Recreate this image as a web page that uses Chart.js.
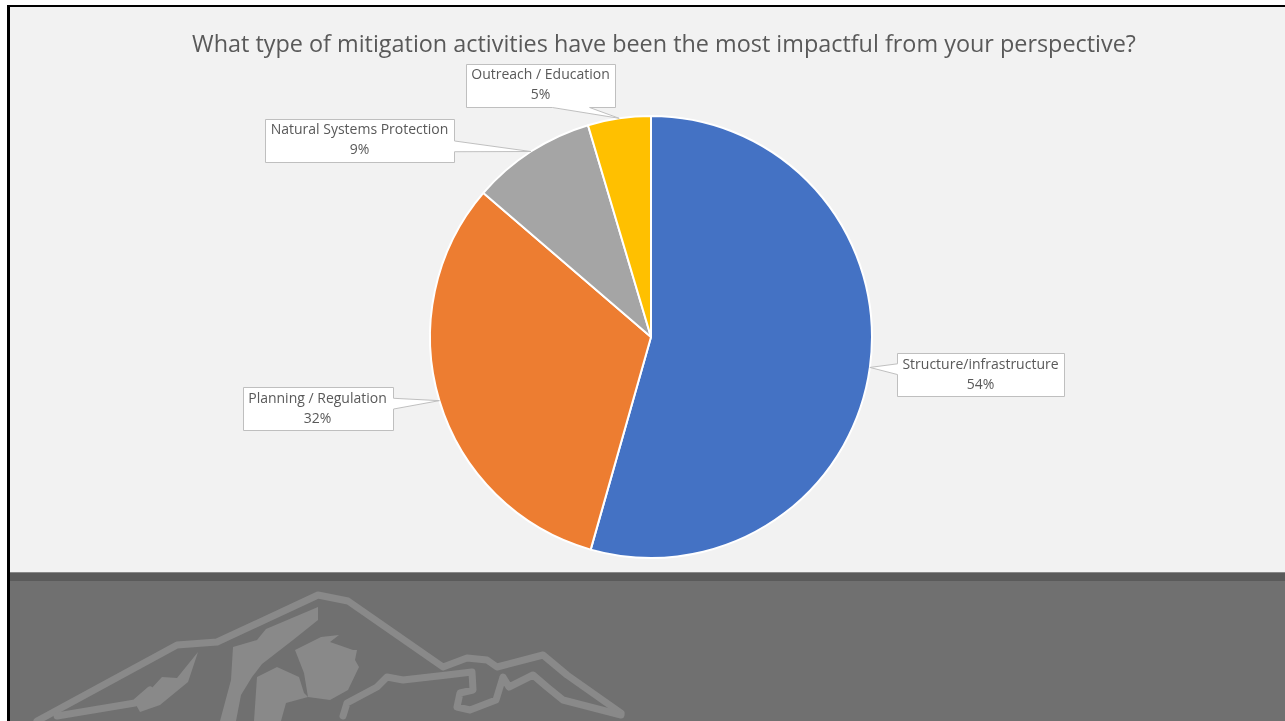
<!DOCTYPE html>
<html>
<head>
<meta charset="utf-8">
<script src="https://cdn.jsdelivr.net/npm/chart.js@4"></script>
<style>
  html, body { margin: 0; padding: 0; background: #ffffff; width: 1285px; height: 721px; overflow: hidden; }
  #frame { position: absolute; left: 7px; top: 5px; width: 1278px; height: 716px; border-left: 3px solid #000; border-top: 2px solid #000; background: #707070; }
  #panel { position: absolute; left: 0; top: 0; width: 1275px; height: 565px; background: #f2f2f2; }
  #band { position: absolute; left: 0; top: 565px; width: 1275px; height: 8px; background: #5a5a5a; border-top: 1px solid #888; }
  #logo { position: absolute; left: -10px; top: -7px; }
  #myChart { position: absolute; left: 0; top: 0; }
</style>
</head>
<body>
<div id="frame">
  <svg id="logo" width="1285" height="721" viewBox="0 0 1285 721">
    <g fill="none" stroke="#898989" stroke-width="7" stroke-linejoin="round" stroke-linecap="round">
      <polyline points="37,721 177,645 217,642 318,595 348,601 443,667 467,658 487,660 497,667 543,655 567,675 621,713" />
      <polyline points="343,716 347,703 377,687 387,677 403,680 447,675 472,672 473,690 460,693 457,707 470,710 496,700 503,677 509,687 533,675 547,687 563,700 621,715" />
      <polyline points="57,716 135,703 150,690" />
    </g>
    <g fill="#898989">
      <polygon points="135,703 150,690 162,677 177,678 198,652 188,682 160,705 140,712" />
      <polygon points="220,721 231,680 233,647 257,640 266,629 318,607 318,620 293,640 262,664 252,677 241,695 236,721" />
      <polygon points="254,721 257,677 277,667 299,677 304,693 308,697 286,703 281,721" />
      <polygon points="295,650 321,637 339,635 330,642 353,650 357,650 355,660 359,667 348,690 330,700 308,697 304,673" />
    </g>
  </svg>
  <div id="panel"></div>
  <div id="band"></div>
  <canvas id="myChart" width="1275" height="565"></canvas>
</div>
<script>
// survey answers, share of respondents in percent
const categories = ["Structure/infrastructure", "Planning / Regulation", "Natural Systems Protection", "Outreach / Education"];
const shares = [54.4, 31.9, 9.1, 4.6];
const sliceColors = ["#4472c4", "#ed7d31", "#a5a5a5", "#ffc000"];
const chartTitle = "What type of mitigation activities have been the most impactful from your perspective?";

//title drawn at its own spot (the slide centres it a bit right of the pie)
const slideTitle = {
  id: "slideTitle",
  afterDraw(chart, args, opts) {
    const ctx = chart.ctx;
    ctx.save();
    ctx.font = opts.font;
    ctx.fillStyle = opts.color;
    ctx.textAlign = "center";
    ctx.textBaseline = "middle";
    ctx.fillText(opts.text, opts.x, opts.y);
    ctx.restore();
  },
};

//Excel style wedge callouts
const callouts = {
  id: "callouts",
  afterDatasetsDraw(chart, args, opts) {
    const ctx = chart.ctx;
    const meta = chart.getDatasetMeta(0);
    const values = chart.data.datasets[0].data;
    ctx.save();
    ctx.font = opts.font;
    meta.data.forEach((arc, i) => {
      const p = arc.getProps(["x", "y", "startAngle", "endAngle", "outerRadius"], true);
      const mid = (p.startAngle + p.endAngle) / 2;
      const tip = { x: p.x + Math.cos(mid) * p.outerRadius, y: p.y + Math.sin(mid) * p.outerRadius };
      const lines = [chart.data.labels[i], Math.round(values[i]) + "%"];
      const w = Math.round(Math.max(...lines.map((t) => ctx.measureText(t).width)) + 11);
      const h = 43;
      const cx = p.x + opts.offsets[i][0];
      const cy = p.y + opts.offsets[i][1];
      const l = Math.round(cx - w / 2) + 0.5, r = l + w, t = Math.round(cy - h / 2) + 0.5, b = t + h;
      const dx = tip.x - cx, dy = tip.y - cy;
      const sx = w / 2 / Math.abs(dx), sy = h / 2 / Math.abs(dy);
      const pts = [[l, t]];
      let side, e, hw;
      if (sx < sy) {
        side = dx > 0 ? "r" : "l";
        hw = h / 8;
        e = Math.min(Math.max(cy + dy * sx, t + hw), b - hw);
      } else {
        side = dy > 0 ? "b" : "t";
        hw = w / 8;
        e = Math.min(Math.max(cx + dx * sy * 0.6, l + hw), r - hw);
      }
      if (side === "t") pts.push([e - hw, t], [tip.x, tip.y], [e + hw, t]);
      pts.push([r, t]);
      if (side === "r") pts.push([r, e - hw], [tip.x, tip.y], [r, e + hw]);
      pts.push([r, b]);
      if (side === "b") pts.push([e + hw, b], [tip.x, tip.y], [e - hw, b]);
      pts.push([l, b]);
      if (side === "l") pts.push([l, e + hw], [tip.x, tip.y], [l, e - hw]);
      ctx.beginPath();
      pts.forEach((pt, k) => (k ? ctx.lineTo(pt[0], pt[1]) : ctx.moveTo(pt[0], pt[1])));
      ctx.closePath();
      ctx.fillStyle = "#ffffff";
      ctx.fill();
      ctx.strokeStyle = "#bfbfbf";
      ctx.lineWidth = 1;
      ctx.stroke();
      ctx.fillStyle = "#595959";
      ctx.textAlign = "center";
      ctx.textBaseline = "middle";
      ctx.fillText(lines[0], cx, cy - 9.5);
      ctx.fillText(lines[1], cx, cy + 10.5);
    });
    ctx.restore();
  },
};

const ctx = document.getElementById("myChart");
const myChart = new Chart(ctx, {
  type: "pie",
  data: {
    labels: categories,
    datasets: [
      {
        data: shares,
        backgroundColor: sliceColors,
        borderColor: "#ffffff",
        borderWidth: 2,
      },
    ],
  },
  options: {
    responsive: false,
    animation: false,
    layout: {
      padding: { left: 7, right: 0, top: 108, bottom: 13 },
    },
    plugins: {
      legend: { display: false },
      tooltip: { enabled: false },
      title: { display: false },
      slideTitle: {
        text: chartTitle,
        font: "23.4px 'Open Sans'",
        color: "#595959",
        x: 654,
        y: 38,
      },
      callouts: {
        font: "14px 'Open Sans'",
        // box centre relative to pie centre
        offsets: [
          [329.5, 37.5],
          [-333.5, 71.5],
          [-291.5, -197],
          [-110.5, -252],
        ],
      },
    },
  },
  plugins: [slideTitle, callouts],
});
</script>
</body>
</html>
